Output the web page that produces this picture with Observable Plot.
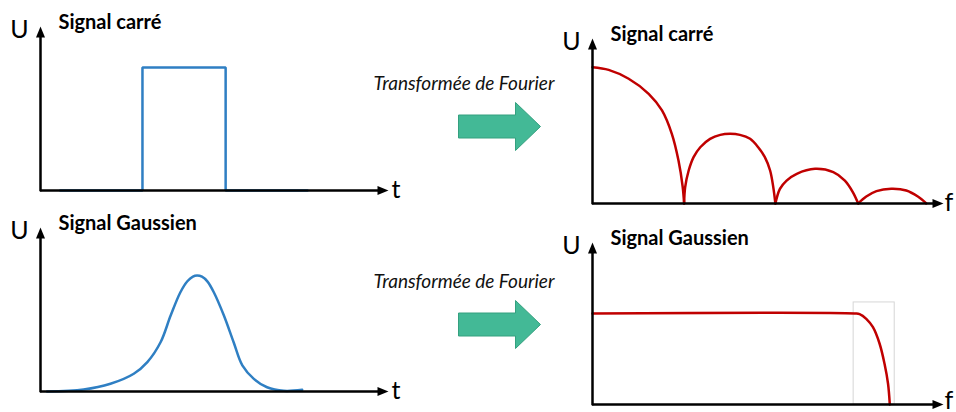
<!DOCTYPE html>
<html><head><meta charset="utf-8">
<script src="https://cdn.jsdelivr.net/npm/d3@7"></script>
<script src="https://cdn.jsdelivr.net/npm/@observablehq/plot@0.6"></script>
<style>
html,body{margin:0;padding:0;background:#fff;}
#root{position:relative;width:956px;height:412px;overflow:hidden;font-family:Lato,"Open Sans",sans-serif;}
#root > div{position:absolute;}
#root svg{overflow:visible;}
</style></head><body><div id="root"></div>
<script>
// ---- text ----
const titles = ["Signal carré", "Signal Gaussien"];
const transformLabel = "Transformée de Fourier";
const yLabel = "U";
const timeLabel = "t";
const freqLabel = "f";

// ---- time-domain square pulse (t, U) ----
const squareT = [0.57, 2.93, 2.93, 5.32, 5.32, 7.67];
const squareU = [0, 0, 0.75, 0.75, 0, 0];

// ---- time-domain Gaussian pulse (t, U) ----
const gaussT = [0.19, 1.24, 2.01, 2.68, 3.07, 3.45, 3.74, 4.02, 4.22, 4.38, 4.50, 4.64, 4.80, 4.98, 5.27, 5.55, 5.80, 6.13, 6.51, 6.99, 7.52];
const gaussU = [0.0, 0.012, 0.047, 0.108, 0.179, 0.30, 0.463, 0.605, 0.672, 0.701, 0.707, 0.700, 0.670, 0.605, 0.463, 0.30, 0.159, 0.077, 0.026, 0.004, 0.01];

// ---- spectrum of square pulse: |sinc| lobes (f, U, lobe) ----
const sincF = [0, 0.46, 1.03, 1.60, 1.98, 2.26, 2.45, 2.57, 2.61,
               2.61, 2.64, 2.74, 2.88, 3.07, 3.35, 3.64, 3.92, 4.20, 4.49, 4.72, 4.91, 5.06, 5.15, 5.21,
               5.21, 5.34, 5.53, 5.82, 6.34, 6.86, 7.19, 7.42, 7.57,
               7.57, 7.80, 8.09, 8.51, 8.94, 9.27, 9.51];
const sincU = [0.826, 0.81, 0.756, 0.665, 0.564, 0.422, 0.26, 0.10, 0,
               0, 0.099, 0.20, 0.281, 0.341, 0.392, 0.416, 0.422, 0.416, 0.392, 0.341, 0.281, 0.20, 0.099, 0,
               0, 0.089, 0.139, 0.18, 0.21, 0.19, 0.139, 0.068, 0,
               0, 0.042, 0.075, 0.089, 0.079, 0.042, 0];
const sincLobe = [1,1,1,1,1,1,1,1,1, 2,2,2,2,2,2,2,2,2,2,2,2,2,2,2, 3,3,3,3,3,3,3,3,3, 4,4,4,4,4,4,4];

// ---- spectrum of Gaussian pulse (f, U) ----
const gSpecF = [0, 7.47, 7.61, 7.80, 7.99, 8.18, 8.32, 8.42, 8.47];
const gSpecU = [0.562, 0.562, 0.558, 0.529, 0.477, 0.375, 0.251, 0.128, 0];

// ---- highlighted cut-off region (f range, U range) ----
const cutoffF = [7.44, 8.61];
const cutoffU = [0, 0.63];

// ---- tables ----
const squareData = squareT.map((t, i) => ({t, u: squareU[i]}));
const gaussData = gaussT.map((t, i) => ({t, u: gaussU[i]}));
const sincData = sincF.map((f, i) => ({f, u: sincU[i], lobe: sincLobe[i]}));
const gSpecData = gSpecF.map((f, i) => ({f, u: gSpecU[i]}));
const cutoffData = [{f1: cutoffF[0], f2: cutoffF[1], u1: cutoffU[0], u2: cutoffU[1]}];

const BLUE = "#2f7fc3", RED = "#c00000", INK = "#000";
const FONT = "Lato, 'Open Sans', sans-serif";

const arrowHead = {draw(ctx) { ctx.moveTo(0, 0); ctx.lineTo(-11, -4.5); ctx.lineTo(-11, 4.5); ctx.closePath(); }};
const blockArrow = {draw(ctx) {
  ctx.moveTo(-41, -11.5); ctx.lineTo(16, -11.5); ctx.lineTo(16, -24); ctx.lineTo(41, 0);
  ctx.lineTo(16, 24); ctx.lineTo(16, 11.5); ctx.lineTo(-41, 11.5); ctx.closePath();
}};

const root = document.getElementById("root");
function place(node, left, top) {
  const d = document.createElement("div");
  d.style.left = left + "px"; d.style.top = top + "px";
  d.appendChild(node); root.appendChild(d);
}

function panel({left, top, width, height, ml, mr, mt, mb, title, axisLabel, labelDx, labelDy, marks}) {
  const chart = Plot.plot({
    width, height, marginLeft: ml, marginRight: mr, marginTop: mt, marginBottom: mb,
    x: {domain: [0, 10], axis: null},
    y: {domain: [0, 1], axis: null},
    style: {background: "transparent", overflow: "visible", fontFamily: FONT},
    marks: [
      ...marks,
      Plot.ruleY([0], {stroke: INK, strokeWidth: 2.5, insetRight: 9}),
      Plot.ruleX([0], {stroke: INK, strokeWidth: 2.5, insetTop: 9, insetBottom: -1.25}),
      Plot.dot([axisLabel], {frameAnchor: "bottom-right", symbol: arrowHead, fill: INK, stroke: "none"}),
      Plot.dot([yLabel], {frameAnchor: "top-left", symbol: arrowHead, rotate: -90, fill: INK, stroke: "none"}),
      Plot.text([yLabel], {frameAnchor: "top-left", text: d => d, dx: -21, dy: 3, fontSize: 25, fill: INK, textAnchor: "middle", lineAnchor: "middle"}),
      Plot.text([axisLabel], {frameAnchor: "bottom-right", text: d => d, dx: labelDx, dy: labelDy, fontSize: 25, fill: INK, textAnchor: "start", lineAnchor: "middle"}),
      Plot.text([title], {frameAnchor: "top-left", text: d => d, dx: 18, dy: -4, fontSize: 20, fontWeight: "bold", fill: INK, textAnchor: "start", lineAnchor: "middle"})
    ]
  });
  place(chart, left, top);
}

// top-left: square pulse
panel({left: 0, top: 0, width: 400, height: 205, ml: 40, mr: 12, mt: 26, mb: 15,
  title: titles[0], axisLabel: timeLabel, labelDx: 3, labelDy: -1,
  marks: [Plot.line(squareData, {x: "t", y: "u", stroke: BLUE, strokeWidth: 2.5, strokeLinejoin: "miter"})]});

// bottom-left: Gaussian pulse
panel({left: 0, top: 200, width: 400, height: 205, ml: 40, mr: 12, mt: 27, mb: 14,
  title: titles[1], axisLabel: timeLabel, labelDx: 3, labelDy: -1,
  marks: [Plot.line(gaussData, {x: "t", y: "u", stroke: BLUE, strokeWidth: 2.5, curve: "catmull-rom"})]});

// top-right: spectrum of square pulse
panel({left: 552, top: 0, width: 404, height: 215, ml: 40, mr: 13, mt: 38, mb: 12,
  title: titles[0], axisLabel: freqLabel, labelDx: 1, labelDy: -1,
  marks: [Plot.line(sincData, {x: "f", y: "u", z: "lobe", stroke: RED, strokeWidth: 2.5, curve: "catmull-rom"})]});

// bottom-right: spectrum of Gaussian pulse
panel({left: 552, top: 210, width: 404, height: 202, ml: 40, mr: 13, mt: 32, mb: 8,
  title: titles[1], axisLabel: freqLabel, labelDx: 1, labelDy: -4,
  marks: [
    Plot.rect(cutoffData, {x1: "f1", x2: "f2", y1: "u1", y2: "u2", fill: "none", stroke: "#d6d6d6", strokeWidth: 1}),
    Plot.line(gSpecData, {x: "f", y: "u", stroke: RED, strokeWidth: 2.5, curve: "catmull-rom"})
  ]});

// middle: "Transformée de Fourier" + block arrows
for (const top of [60, 258]) {
  const mid = Plot.plot({
    width: 200, height: 100, margin: 0,
    style: {background: "transparent", overflow: "visible", fontFamily: FONT},
    marks: [
      Plot.text([transformLabel], {frameAnchor: "top-left", text: d => d, dx: 103.5, dy: 23, fontSize: 19, fontStyle: "italic", fill: "#111", textAnchor: "middle", lineAnchor: "middle"}),
      Plot.dot([transformLabel], {frameAnchor: "top-left", dx: 139, dy: 66, symbol: blockArrow, fill: "#43b996", stroke: "#34a07f", strokeWidth: 1})
    ]
  });
  place(mid, 360, top);
}
</script></body></html>
